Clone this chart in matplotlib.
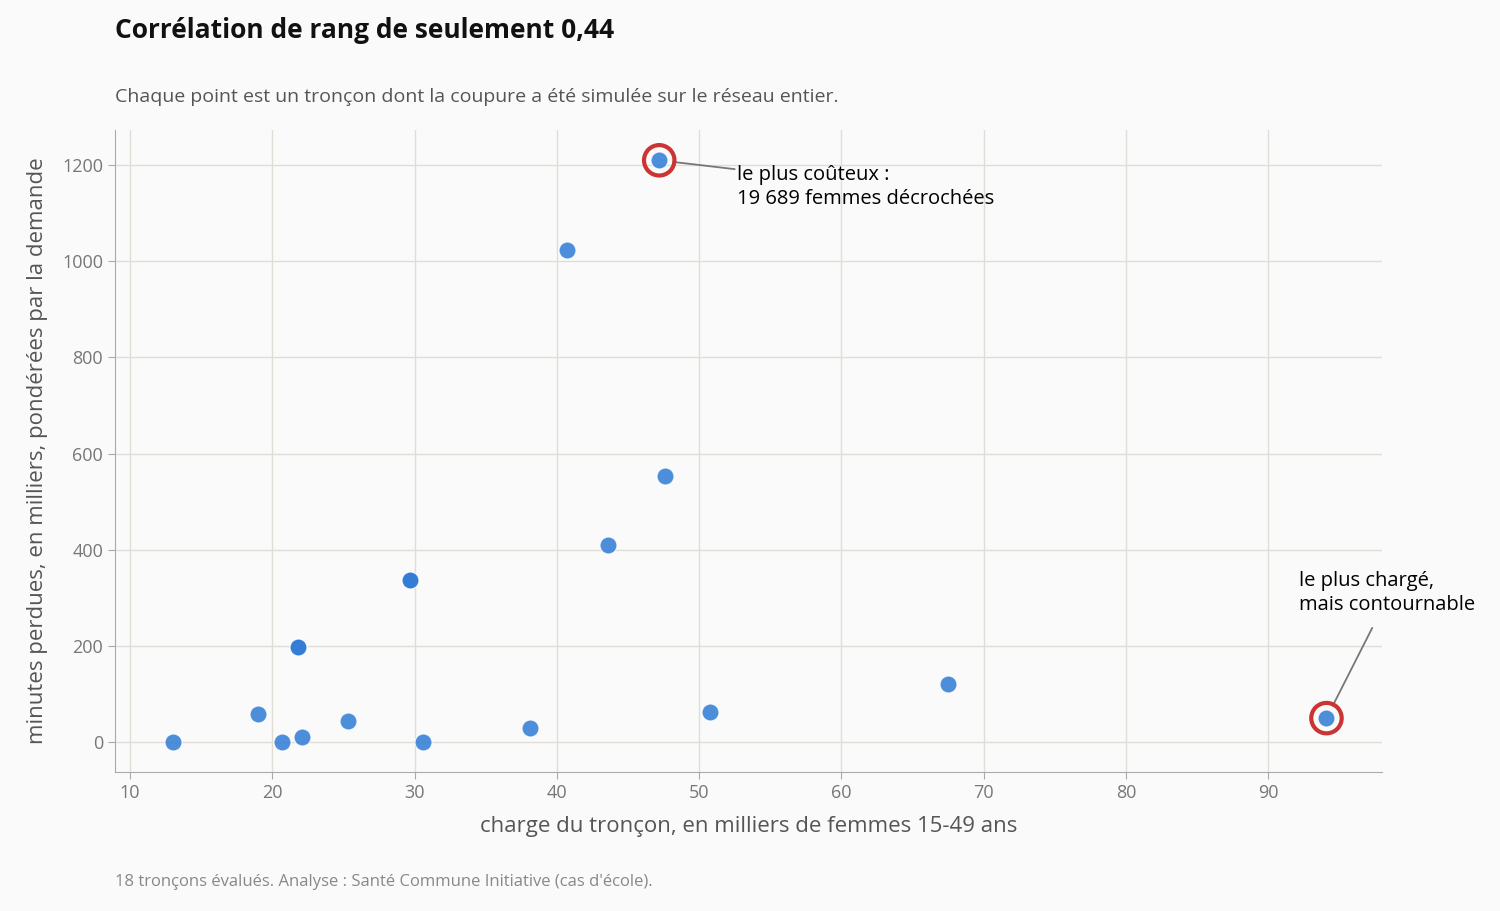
import matplotlib
matplotlib.use("Agg")
import matplotlib.pyplot as plt

plt.rcParams["font.family"] = ["Open Sans", "DejaVu Sans"]

# charge (milliers de femmes 15-49) vs minutes perdues (milliers)
charge = [13.0, 19.0, 20.7, 21.8, 21.8, 22.1, 25.3, 29.7, 29.7, 30.6,
          38.1, 40.7, 43.6, 47.2, 47.6, 50.8, 67.5, 94.1]
minutes = [0, 58, 0, 197, 197, 10, 43, 338, 338, 0,
           30, 1024, 410, 1210, 553, 63, 120, 50]
highlight = [(47.2, 1210), (94.1, 50)]

bg = "#fafafa"
fig = plt.figure(figsize=(15, 9.11), dpi=100, facecolor=bg)
ax = fig.add_axes([0.0767, 0.1526, 0.8446, 0.7047], facecolor=bg)

ax.scatter(charge, minutes, s=150, color="#2f7bd6", alpha=0.85,
           edgecolors="white", linewidths=0.8, zorder=3)
for hx, hy in highlight:
    ax.scatter([hx], [hy], s=480, facecolors="none", edgecolors="#cc3333",
               linewidths=3, zorder=4)

ax.set_xlim(8.95, 98.0)
ax.set_ylim(-62, 1273)
ax.set_xticks(range(10, 100, 10))
ax.set_yticks(range(0, 1201, 200))
ax.grid(True, color="#e0ddd6", lw=1)
ax.set_axisbelow(True)
for s in ["top", "right"]:
    ax.spines[s].set_visible(False)
for s in ["left", "bottom"]:
    ax.spines[s].set_color("#aaaaaa")
ax.tick_params(colors="#aaaaaa", labelcolor="#777777", labelsize=13, length=5)

ax.set_xlabel("charge du tronçon, en milliers de femmes 15-49 ans",
              fontsize=16, color="#555555", labelpad=10)
ax.set_ylabel("minutes perdues, en milliers, pondérées par la demande",
              fontsize=16, color="#555555", labelpad=10)

ax.annotate("le plus coûteux :\n19 689 femmes décrochées", xy=(47.2, 1210),
            xytext=(52.7, 1200), fontsize=14.5, va="top", ha="left",
            linespacing=1.25,
            arrowprops=dict(arrowstyle="-", color="#777777", lw=1.3,
                            shrinkA=0, shrinkB=10, relpos=(0, 0.9)))
ax.annotate("le plus chargé,\nmais contournable", xy=(94.1, 50),
            xytext=(92.2, 355), fontsize=14.5, va="top", ha="left",
            linespacing=1.25,
            arrowprops=dict(arrowstyle="-", color="#777777", lw=1.3,
                            shrinkA=8, shrinkB=10, relpos=(0.45, 0)))

fig.text(0.0767, 0.966, "Corrélation de rang de seulement 0,44",
         fontsize=19, fontweight="bold", va="center", color="#111111")
fig.text(0.0767, 0.894,
         "Chaque point est un tronçon dont la coupure a été simulée sur le réseau entier.",
         fontsize=14, va="center", color="#555555")
fig.text(0.0767, 0.032,
         "18 tronçons évalués. Analyse : Santé Commune Initiative (cas d'école).",
         fontsize=12, va="center", color="#888888")

fig.savefig("out.png", dpi=100, facecolor=bg)
